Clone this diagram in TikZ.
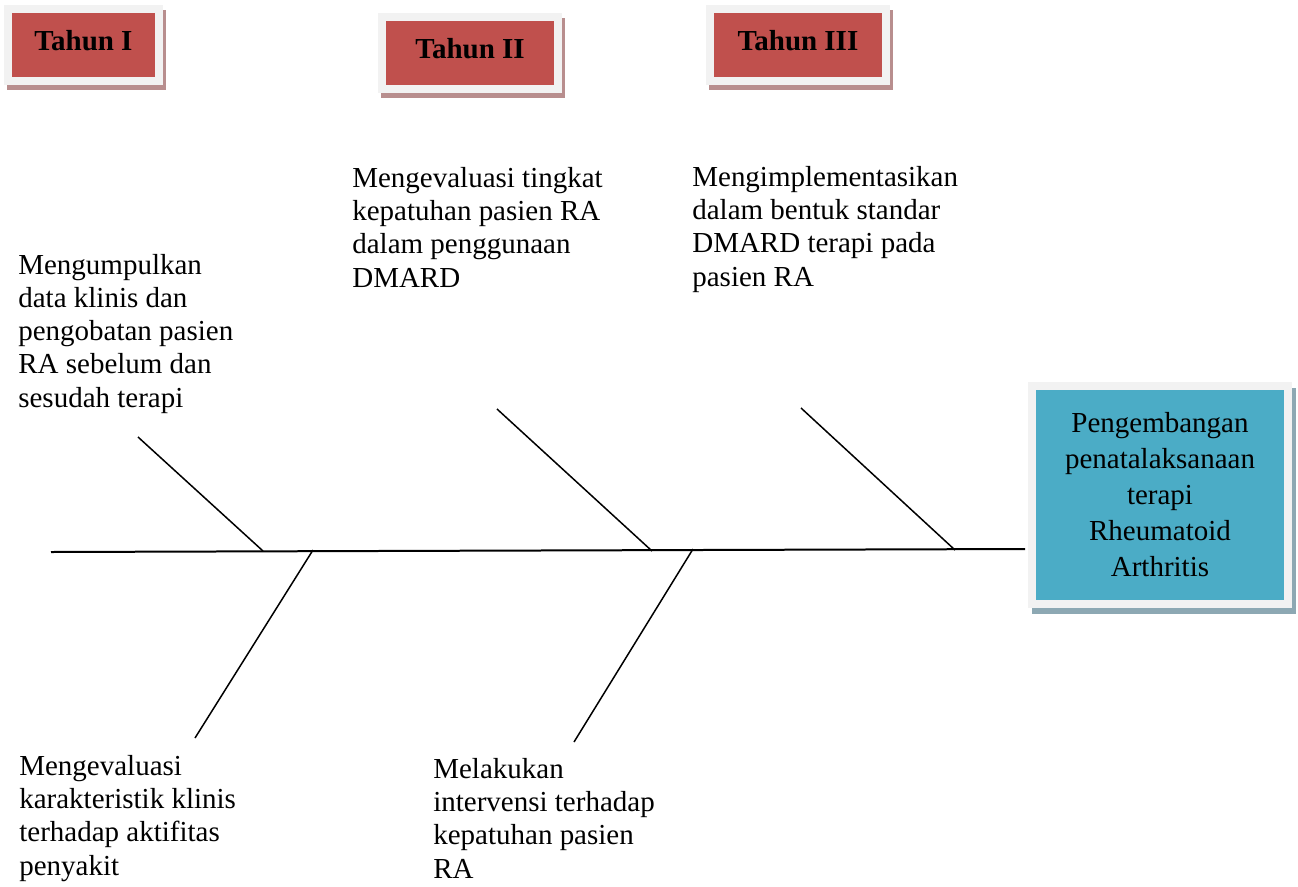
\documentclass[tikz,border=0pt]{standalone}
\usepackage{fontspec}
\setmainfont{Liberation Serif}
\usetikzlibrary{shadows}
\definecolor{Brick}{HTML}{C0504D}
\definecolor{BrickShade}{HTML}{B88E8E}
\definecolor{Frame}{HTML}{F2F2F2}
\definecolor{Aqua}{HTML}{4BACC6}
\definecolor{AquaShade}{HTML}{8DA8B3}
\tikzset{
  framed/.style={
    rectangle, fill=Frame, inner sep=0pt, align=center,
    path picture={\fill[#1]
      ([shift={(0.155cm,-0.155cm)}]path picture bounding box.north west)
      rectangle
      ([shift={(-0.155cm,0.155cm)}]path picture bounding box.south east);}
  },
  yearbox/.style={
    framed=Brick, minimum height=1.6cm, text depth=5pt,
    font=\fontsize{16.5}{19}\selectfont\bfseries,
    drop shadow={shadow xshift=0.06cm, shadow yshift=-0.1cm,
      fill=BrickShade, opacity=1}
  },
  goalbox/.style={
    framed=Aqua, minimum width=5.28cm, minimum height=4.52cm,
    font=\fontsize{16.5}{20.5}\selectfont,
    drop shadow={shadow xshift=0.08cm, shadow yshift=-0.12cm,
      fill=AquaShade, opacity=1}
  },
  % base = baseline of the last line
  note/.style={
    anchor=base west, align=left, inner sep=0pt,
    font=\fontsize{16.5}{18.8}\selectfont
  },
  spine/.style={line width=0.04cm, draw=black},
  bone/.style={line width=0.03cm, draw=black}
}

\begin{document}
\begin{tikzpicture}[x=0.02cm,y=-0.02cm]
  \useasboundingbox (0,0) rectangle (1298,886);
  % tahun
  \node[yearbox,minimum width=3.18cm] (y1) at (83.5,45) {Tahun I};
  \node[yearbox,minimum width=3.68cm] (y2) at (470,53) {Tahun II};
  \node[yearbox,minimum width=3.68cm] (y3) at (798,45) {Tahun III};
  % kepala
  \node[goalbox] (goal) at (1160,495)
    {Pengembangan\\penatalaksanaan\\terapi\\Rheumatoid\\Arthritis};
  % tulang
  \coordinate (tail) at (51,552);
  \coordinate (head) at (1025,549);
  \coordinate (j1) at (263,551);
  \coordinate (j2) at (652,551);
  \coordinate (j3) at (955,550);
  \coordinate (j4) at (313,550);
  \coordinate (j5) at (693,549);
  \coordinate (e1) at (138,437);
  \coordinate (e2) at (497,409);
  \coordinate (e3) at (801,408);
  \coordinate (e4) at (195,738);
  \coordinate (e5) at (574,742);
  \draw[spine] (tail) -- (head);
  \draw[bone] (e1) -- (j1);
  \draw[bone] (e2) -- (j2);
  \draw[bone] (e3) -- (j3);
  \draw[bone] (j4) -- (e4);
  \draw[bone] (j5) -- (e5);
  % kegiatan
  \node[note] (n1) at (18,407)
    {Mengumpulkan\\data klinis dan\\pengobatan pasien\\RA sebelum dan\\sesudah terapi};
  \node[note] (n2) at (352,287)
    {Mengevaluasi tingkat\\kepatuhan pasien RA\\dalam penggunaan\\DMARD};
  \node[note] (n3) at (692,286)
    {Mengimplementasikan\\dalam bentuk standar\\DMARD terapi pada\\pasien RA};
  \node[note] (n4) at (19,875)
    {Mengevaluasi\\karakteristik klinis\\terhadap aktifitas\\penyakit};
  \node[note] (n5) at (433,878)
    {Melakukan\\intervensi terhadap\\kepatuhan pasien\\RA};
\end{tikzpicture}
\end{document}
